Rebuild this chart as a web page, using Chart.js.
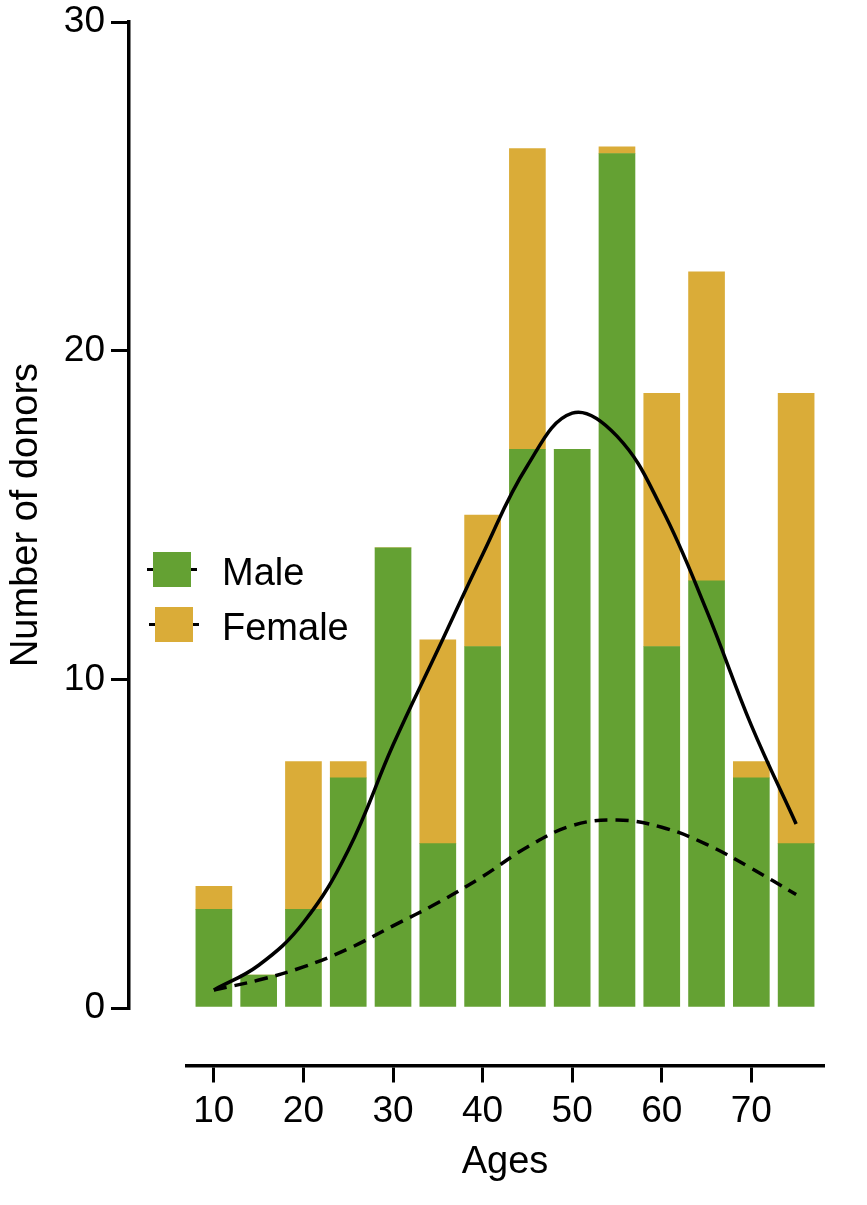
<!DOCTYPE html>
<html>
<head>
<meta charset="utf-8">
<script src="https://cdn.jsdelivr.net/npm/chart.js@4.4.1/dist/chart.umd.min.js"></script>
<style>
  html, body { margin: 0; padding: 0; background: #fff; }
  #wrap { position: relative; width: 867px; height: 1205px; }
  #legend { position: absolute; left: 0; top: 0; font-family: 'Liberation Sans', Arial, sans-serif; }
  .line { position: absolute; height: 3px; background: #000; }
  .box { position: absolute; }
  .txt { position: absolute; font-size: 38px; line-height: 38px; color: #000; white-space: nowrap; }
</style>
</head>
<body>
<div id="wrap">
  <canvas id="c" width="867" height="1205"></canvas>
  <div id="legend"></div>
</div>
<script>
const ages = [10, 15, 20, 25, 30, 35, 40, 45, 50, 55, 60, 65, 70, 75];
const male = [3, 1, 3, 7, 14, 5, 11, 17, 17, 26, 11, 13, 7, 5];
const female = [0.7, 0, 4.5, 0.5, 0, 6.2, 4.0, 9.15, 0, 0.2, 7.7, 9.4, 0.5, 13.7];
const fitSolid = [0.55, 1.3, 2.6, 4.8, 8.0, 10.9, 13.8, 16.5, 18.1, 17.4, 15.2, 12.1, 8.6, 5.6];
const fitDashed = [0.55, 0.85, 1.25, 1.8, 2.5, 3.2, 4.0, 4.9, 5.55, 5.72, 5.5, 4.98, 4.25, 3.45];
const xTicks = [10, 20, 30, 40, 50, 60, 70];
const yTicks = [0, 10, 20, 30];
const seriesNames = ['Male', 'Female'];
const seriesColors = ['#64A133', '#DAAC38'];

const FONT = "'Liberation Sans', Arial, sans-serif";
const pts = (vals) => ages.map((a, i) => ({ x: a, y: vals[i] }));
const setTicks = (vals) => (scale) => { scale.ticks = vals.map(v => ({ value: v })); };
const noPad = (s) => { s.paddingTop = 0; s.paddingBottom = 0; s.paddingLeft = 0; s.paddingRight = 0; };

const chart = new Chart(document.getElementById('c'), {
  type: 'bar',
  data: {
    datasets: [
      { type: 'line', label: 'Fit 1', data: pts(fitSolid), borderColor: '#000', borderWidth: 3.5,
        pointRadius: 0, tension: 0.4, fill: false, stack: 'l1', order: 0 },
      { type: 'line', label: 'Fit 2', data: pts(fitDashed), borderColor: '#000', borderWidth: 3.5,
        borderDash: [13, 8], pointRadius: 0, tension: 0.4, fill: false, stack: 'l2', order: 0 },
      { label: seriesNames[0], data: pts(male), backgroundColor: seriesColors[0], stack: 'bars',
        barThickness: 36, order: 1 },
      { label: seriesNames[1], data: pts(female), backgroundColor: seriesColors[1], stack: 'bars',
        barThickness: 36, order: 1 }
    ]
  },
  options: {
    responsive: false,
    animation: false,
    events: [],
    layout: { padding: { top: 22, right: 44, left: 0, bottom: 0 } },
    plugins: { legend: { display: false }, tooltip: { enabled: false } },
    scales: {
      x: {
        type: 'linear', min: 7, max: 78, offset: false,
        position: { y: -1.75 },
        afterBuildTicks: setTicks(xTicks),
        afterFit: (s) => { noPad(s); s.height = 0; },
        grid: { display: true, offset: false, drawOnChartArea: false, drawTicks: true, tickLength: 15, color: '#000', lineWidth: 3 },
        border: { display: true, color: '#000', width: 3.5 },
        ticks: { display: false }
      },
      y: {
        type: 'linear', min: 0, max: 30, stacked: true,
        position: { x: 0.5 },
        afterBuildTicks: setTicks(yTicks),
        afterFit: (s) => { noPad(s); s.width = 0; },
        grid: { display: true, offset: false, drawOnChartArea: false, drawTicks: true, tickLength: 16, color: '#000', lineWidth: 3 },
        border: { display: true, color: '#000', width: 3.5 },
        ticks: { display: false }
      },
      xl: {
        type: 'linear', axis: 'x', position: 'bottom', min: 7, max: 78, offset: false,
        afterBuildTicks: setTicks(xTicks),
        afterFit: (s) => { noPad(s); s.height = 197; },
        grid: { display: false, drawTicks: false, offset: false },
        border: { display: false },
        ticks: { color: '#000', font: { family: FONT, size: 37 }, padding: 82, maxRotation: 0, autoSkip: false },
        title: { display: true, text: 'Ages', color: '#000', font: { family: FONT, size: 38 }, padding: { top: 0, bottom: 20 } }
      },
      yl: {
        type: 'linear', axis: 'y', position: 'left', min: 0, max: 30,
        afterBuildTicks: setTicks(yTicks),
        afterFit: (s) => { noPad(s); s.width = 187; },
        grid: { display: false, drawTicks: false },
        border: { display: false },
        ticks: { color: '#000', font: { family: FONT, size: 37 }, padding: 82 },
        title: { display: true, text: 'Number of donors', color: '#000', font: { family: FONT, size: 38 }, padding: { top: 4, bottom: 0 } }
      }
    }
  }
});

// HTML legend built from the bar datasets
const legend = document.getElementById('legend');
const rows = [{ top: 552, boxLeft: 153 }, { top: 607, boxLeft: 155 }];
seriesNames.forEach((name, i) => {
  const r = rows[i];
  const line = document.createElement('div');
  line.className = 'line';
  line.style.left = (r.boxLeft - 6) + 'px';
  line.style.width = '50px';
  line.style.top = (r.top + 16) + 'px';
  legend.appendChild(line);
  const box = document.createElement('div');
  box.className = 'box';
  box.style.left = r.boxLeft + 'px';
  box.style.top = r.top + 'px';
  box.style.width = '38px';
  box.style.height = '35px';
  box.style.background = seriesColors[i];
  legend.appendChild(box);
  const t = document.createElement('div');
  t.className = 'txt';
  t.textContent = name;
  t.style.left = '222px';
  t.style.top = (r.top + 1) + 'px';
  legend.appendChild(t);
});
</script>
</body>
</html>
